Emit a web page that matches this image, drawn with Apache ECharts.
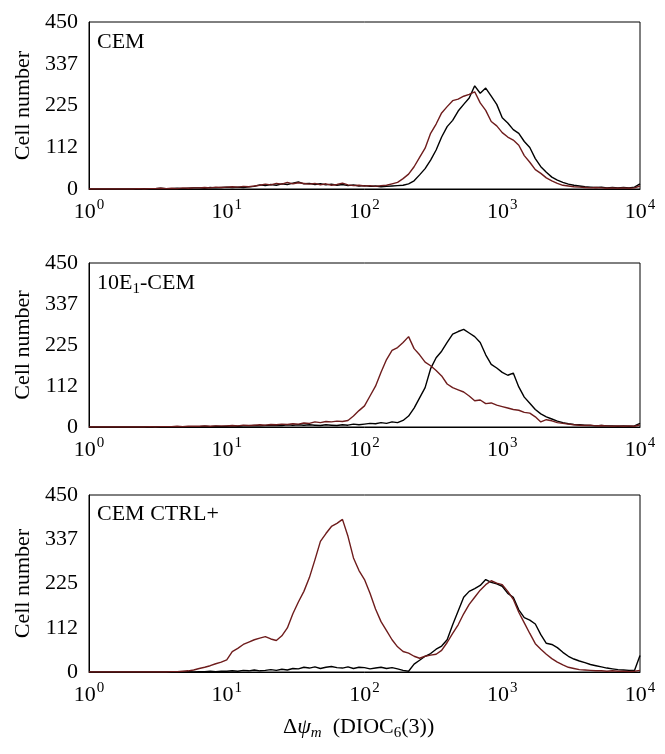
<!DOCTYPE html>
<html><head><meta charset="utf-8">
<script src="https://cdn.jsdelivr.net/npm/echarts@6/dist/echarts.min.js"></script>
<style>html,body{margin:0;padding:0;background:#fff}#c{width:665px;height:754px}</style>
</head><body><div id="c"></div>
<script>
// 25 log-spaced channels per decade, from 10^0 to 10^4
const channels = Array.from({length: 101}, (_, i) => i);
const decadeLabels = ['0', '1', '2', '3', '4'];
const yTicks = [0, 112, 225, 337, 450];

const cemBlack = [0,0,0,0,0,0,0,0,0,0, 1,0,1,2,1,1,2,1,2,3, 3,2,4,3,4,5,4,5,4,6,
  7,11,9,12,10,14,12,16,19,14, 15,12,14,11,13,10,12,9,11,8, 9,7,8,6,7,8,9,10,14,22,
  38,55,78,105,140,168,185,210,228,245, 278,258,272,250,228,192,178,160,150,128,
  112,82,60,45,32,24,18,13,10,8, 6,5,4,5,3,4,3,4,3,5, 14];
const cemRed = [0,0,0,0,0,0,0,0,0,1, 0,1,1,2,1,2,1,3,2,3, 3,4,3,5,4,5,6,5,7,6,
  8,10,13,11,15,13,18,14,17,15, 13,15,11,14,10,12,16,11,9,10, 8,9,7,9,10,14,18,28,40,60,
  85,110,150,175,205,222,238,242,250,255, 262,232,212,182,170,152,140,132,118,90,
  72,52,42,30,22,15,10,8,6,5, 4,3,4,3,2,3,2,3,2,3, 8];
const e1Black = [0,0,0,0,0,0,0,0,0,0, 0,0,0,1,0,1,1,0,1,1, 1,2,1,2,1,
  2,3,2,3,3,4,3,4,4,5,4,6,5,6,5, 6,5,4,6,5,4,6,5,8,6,
  8,10,9,12,10,14,12,18,30,52, 80,108,160,190,208,232,255,262,268,258,
  248,232,198,172,162,150,142,148,110,82, 65,48,36,28,22,16,12,9,7,6,
  5,4,3,4,3,3,2,3,2,3, 10];
const e1Red = [0,0,0,0,0,0,0,0,0,0, 0,1,0,1,1,1,2,1,2,2, 2,3,2,3,3,
  3,4,3,5,4,5,6,5,7,6,8,7,9,8,11, 10,14,12,15,14,16,15,18,30,45,
  58,85,112,150,185,210,218,232,248,215, 198,178,168,155,140,118,108,102,96,85,
  72,74,64,66,60,56,52,48,46,40, 38,28,14,20,17,12,10,8,6,5,
  4,5,3,4,3,2,3,2,3,2, 6];
const ctrlBlack = [0,0,0,0,0,0,0,0,0,0, 0,0,0,0,0,0,1,0,1,0, 1,1,2,1,2,
  2,3,2,4,3,5,3,4,6,4,7,5,9,8,12, 10,13,9,12,14,11,10,13,9,12,
  11,8,10,12,9,11,8,4,2,20, 30,40,47,58,66,82,120,155,190,205,
  212,220,235,228,224,218,200,190,158,138, 132,122,95,73,70,62,50,40,33,28,
  24,19,16,13,10,8,6,5,4,4, 42];
const ctrlRed = [0,0,0,0,0,0,0,0,0,0, 0,0,0,0,0,1,1,2,3,5,
  9,12,16,21,25,31,52,60,70,76, 82,86,90,84,80,92,112,148,178,205,
  240,285,332,352,370,378,388,345,290,258, 235,200,160,128,105,82,64,52,48,40,
  35,40,43,45,55,75,98,120,148,172, 190,208,222,232,226,222,205,185,152,125,
  98,72,58,45,34,25,18,12,9,6, 5,4,3,3,2,3,2,2,1,2, 4];

const panels = [
  {name: '{t|CEM}', black: cemBlack, red: cemRed, top: 22, height: 167, lt: 9},
  {name: '{t|10E}{sub|1}{t|-CEM}', black: e1Black, red: e1Red, top: 263, height: 164, lt: 9},
  {name: '{t|CEM CTRL+}', black: ctrlBlack, red: ctrlRed, top: 495, height: 177, lt: 8}
];

const FONT = 'Liberation Serif';
const FS = 22;
const richText = {
  t: {fontFamily: FONT, fontSize: FS, fill: '#000', lineHeight: 28, verticalAlign: 'middle'},
  i: {fontFamily: FONT, fontSize: FS, fontStyle: 'italic', fill: '#000', lineHeight: 28, verticalAlign: 'middle'},
  sub: {fontFamily: FONT, fontSize: 15, fill: '#000', lineHeight: 28, verticalAlign: 'bottom'},
  isub: {fontFamily: FONT, fontSize: 15, fontStyle: 'italic', fill: '#000', lineHeight: 28, verticalAlign: 'bottom'}
};
const chart = echarts.init(document.getElementById('c'), null, {renderer: 'canvas'});
const grids = [], xAxes = [], yAxes = [], series = [], graphics = [];
panels.forEach((p, k) => {
  grids.push({left: 89, width: 551, top: p.top, height: p.height, show: true,
    borderColor: '#000', borderWidth: 1, backgroundColor: 'transparent'});
  xAxes.push({type: 'category', gridIndex: k, data: channels, boundaryGap: false,
    axisLine: {lineStyle: {color: '#000', width: 1}}, axisTick: {show: false},
    axisLabel: {interval: 24, margin: 9, color: '#000',
      formatter: (v, i) => '{b|10}{s|' + decadeLabels[Math.round(v / 25)] + '}',
      rich: {b: {fontFamily: FONT, fontSize: FS, color: '#000', lineHeight: 28, verticalAlign: 'middle'},
             s: {fontFamily: FONT, fontSize: 15, color: '#000', lineHeight: 28, verticalAlign: 'top', padding: [0,0,0,1]}}},
    splitLine: {show: false}});
  yAxes.push({type: 'value', gridIndex: k, min: 0, max: 450, interval: 112.5,
    name: 'Cell number', nameLocation: 'middle', nameGap: 55, nameRotate: 90,
    nameTextStyle: {fontFamily: FONT, fontSize: FS, color: '#000'},
    axisLine: {show: true, lineStyle: {color: '#000', width: 1}}, axisTick: {show: false},
    axisLabel: {margin: 11, fontFamily: FONT, fontSize: FS, color: '#000',
      formatter: v => String(Math.floor(v))},
    splitLine: {show: false}});
  series.push({type: 'line', xAxisIndex: k, yAxisIndex: k, data: p.black, showSymbol: false,
    lineStyle: {color: '#000', width: 1.4}, z: 2, animation: false});
  series.push({type: 'line', xAxisIndex: k, yAxisIndex: k, data: p.red, showSymbol: false,
    lineStyle: {color: '#6e1c1c', width: 1.4}, z: 3, animation: false});
  graphics.push({type: 'text', left: 97, top: p.top + p.lt,
    style: {text: p.name, fill: '#000', rich: richText}});
});
graphics.push({type: 'text', left: 283, top: 716,
  style: {text: '{t|Δ}{i|ψ}{isub|m}{t|  (DIOC}{sub|6}{t|(3))}', rich: richText}});

chart.setOption({animation: false, backgroundColor: '#fff', grid: grids, xAxis: xAxes, yAxis: yAxes,
  series: series, graphic: graphics});
</script></body></html>
